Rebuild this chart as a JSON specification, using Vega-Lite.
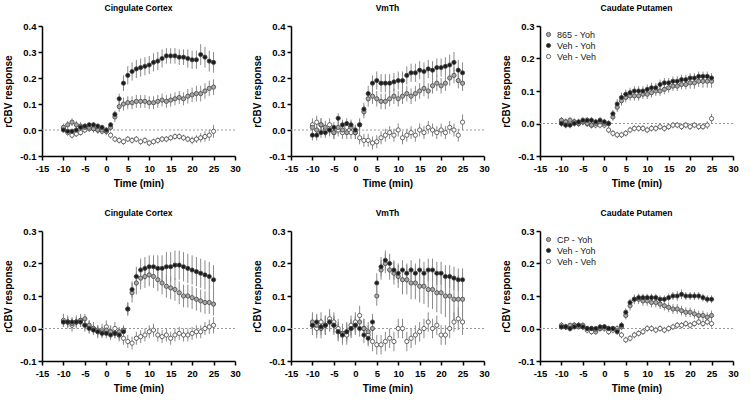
{
"$schema":"https://vega.github.io/schema/vega-lite/v6.json",
"background":"white",
"padding":{"left":3,"top":3,"right":5,"bottom":5},
"config":{"view":{"stroke":null},"font":"Liberation Sans",
"axis":{"grid":false,"domainColor":"black","domainWidth":1.5,"tickColor":"black","tickWidth":1.5,"tickSize":4,"labelFont":"Liberation Sans","labelFontWeight":"bold","labelFontSize":9.5,"labelColor":"black","labelPadding":2,"labelFlush":false,"labelOverlap":false,"labelExpr":"replace(datum.label, '\u2212', '-')","titleFont":"Liberation Sans","titleFontSize":10,"titleFontWeight":"bold","titleColor":"black","titlePadding":6},
"axisX":{"labelPadding":3},
"title":{"font":"Liberation Sans","fontSize":8.5,"fontWeight":"bold","color":"black","anchor":"middle","offset":9},
"legend":{"labelFont":"Liberation Sans","labelFontSize":9,"labelColor":"#222"}},
"datasets":{
"cc1":[
{"g":"Veh - Veh","t":-10,"v":0.005,"e":0.012},{"g":"Veh - Veh","t":-9,"v":-0.01,"e":0.012},{"g":"Veh - Veh","t":-8,"v":-0.02,"e":0.012},{"g":"Veh - Veh","t":-7,"v":-0.015,"e":0.012},{"g":"Veh - Veh","t":-6,"v":-0.01,"e":0.012},{"g":"Veh - Veh","t":-5,"v":0,"e":0.012},{"g":"Veh - Veh","t":-4,"v":0.005,"e":0.012},{"g":"Veh - Veh","t":-3,"v":0.005,"e":0.012},{"g":"Veh - Veh","t":-2,"v":0,"e":0.012},{"g":"Veh - Veh","t":-1,"v":-0.005,"e":0.012},{"g":"Veh - Veh","t":0,"v":-0.005,"e":0.012},{"g":"Veh - Veh","t":1,"v":-0.02,"e":0.012},{"g":"Veh - Veh","t":2,"v":-0.035,"e":0.012},{"g":"Veh - Veh","t":3,"v":-0.04,"e":0.012},{"g":"Veh - Veh","t":4,"v":-0.045,"e":0.012},{"g":"Veh - Veh","t":5,"v":-0.035,"e":0.012},{"g":"Veh - Veh","t":6,"v":-0.04,"e":0.012},{"g":"Veh - Veh","t":7,"v":-0.035,"e":0.012},{"g":"Veh - Veh","t":8,"v":-0.045,"e":0.012},{"g":"Veh - Veh","t":9,"v":-0.04,"e":0.012},{"g":"Veh - Veh","t":10,"v":-0.05,"e":0.012},{"g":"Veh - Veh","t":11,"v":-0.045,"e":0.012},{"g":"Veh - Veh","t":12,"v":-0.04,"e":0.012},{"g":"Veh - Veh","t":13,"v":-0.035,"e":0.012},{"g":"Veh - Veh","t":14,"v":-0.035,"e":0.012},{"g":"Veh - Veh","t":15,"v":-0.03,"e":0.012},{"g":"Veh - Veh","t":16,"v":-0.025,"e":0.012},{"g":"Veh - Veh","t":17,"v":-0.025,"e":0.012},{"g":"Veh - Veh","t":18,"v":-0.03,"e":0.012},{"g":"Veh - Veh","t":19,"v":-0.035,"e":0.012},{"g":"Veh - Veh","t":20,"v":-0.04,"e":0.015},{"g":"Veh - Veh","t":21,"v":-0.035,"e":0.015},{"g":"Veh - Veh","t":22,"v":-0.03,"e":0.018},{"g":"Veh - Veh","t":23,"v":-0.025,"e":0.02},{"g":"Veh - Veh","t":24,"v":-0.02,"e":0.022},{"g":"Veh - Veh","t":25,"v":-0.005,"e":0.025},
{"g":"865 - Yoh","t":-10,"v":0.01,"e":0.015},{"g":"865 - Yoh","t":-9,"v":0.02,"e":0.015},{"g":"865 - Yoh","t":-8,"v":0.03,"e":0.015},{"g":"865 - Yoh","t":-7,"v":0.02,"e":0.015},{"g":"865 - Yoh","t":-6,"v":0.015,"e":0.015},{"g":"865 - Yoh","t":-5,"v":0.01,"e":0.015},{"g":"865 - Yoh","t":-4,"v":0.01,"e":0.015},{"g":"865 - Yoh","t":-3,"v":0.005,"e":0.015},{"g":"865 - Yoh","t":-2,"v":0,"e":0.015},{"g":"865 - Yoh","t":-1,"v":0,"e":0.015},{"g":"865 - Yoh","t":0,"v":-0.005,"e":0.015},{"g":"865 - Yoh","t":1,"v":0.01,"e":0.015},{"g":"865 - Yoh","t":2,"v":0.05,"e":0.02},{"g":"865 - Yoh","t":3,"v":0.09,"e":0.02},{"g":"865 - Yoh","t":4,"v":0.1,"e":0.025},{"g":"865 - Yoh","t":5,"v":0.105,"e":0.025},{"g":"865 - Yoh","t":6,"v":0.105,"e":0.025},{"g":"865 - Yoh","t":7,"v":0.11,"e":0.025},{"g":"865 - Yoh","t":8,"v":0.11,"e":0.025},{"g":"865 - Yoh","t":9,"v":0.11,"e":0.025},{"g":"865 - Yoh","t":10,"v":0.105,"e":0.025},{"g":"865 - Yoh","t":11,"v":0.105,"e":0.025},{"g":"865 - Yoh","t":12,"v":0.11,"e":0.025},{"g":"865 - Yoh","t":13,"v":0.115,"e":0.025},{"g":"865 - Yoh","t":14,"v":0.11,"e":0.025},{"g":"865 - Yoh","t":15,"v":0.115,"e":0.025},{"g":"865 - Yoh","t":16,"v":0.12,"e":0.025},{"g":"865 - Yoh","t":17,"v":0.125,"e":0.025},{"g":"865 - Yoh","t":18,"v":0.12,"e":0.025},{"g":"865 - Yoh","t":19,"v":0.13,"e":0.028},{"g":"865 - Yoh","t":20,"v":0.135,"e":0.028},{"g":"865 - Yoh","t":21,"v":0.14,"e":0.03},{"g":"865 - Yoh","t":22,"v":0.14,"e":0.03},{"g":"865 - Yoh","t":23,"v":0.15,"e":0.03},{"g":"865 - Yoh","t":24,"v":0.16,"e":0.03},{"g":"865 - Yoh","t":25,"v":0.165,"e":0.03},
{"g":"Veh - Yoh","t":-10,"v":0,"e":0.01},{"g":"Veh - Yoh","t":-9,"v":-0.005,"e":0.01},{"g":"Veh - Yoh","t":-8,"v":-0.005,"e":0.01},{"g":"Veh - Yoh","t":-7,"v":0,"e":0.01},{"g":"Veh - Yoh","t":-6,"v":0.01,"e":0.01},{"g":"Veh - Yoh","t":-5,"v":0.015,"e":0.01},{"g":"Veh - Yoh","t":-4,"v":0.02,"e":0.01},{"g":"Veh - Yoh","t":-3,"v":0.02,"e":0.01},{"g":"Veh - Yoh","t":-2,"v":0.015,"e":0.01},{"g":"Veh - Yoh","t":-1,"v":0.01,"e":0.01},{"g":"Veh - Yoh","t":0,"v":0,"e":0.01},{"g":"Veh - Yoh","t":1,"v":0.02,"e":0.01},{"g":"Veh - Yoh","t":2,"v":0.06,"e":0.015},{"g":"Veh - Yoh","t":3,"v":0.12,"e":0.02},{"g":"Veh - Yoh","t":4,"v":0.18,"e":0.03},{"g":"Veh - Yoh","t":5,"v":0.21,"e":0.035},{"g":"Veh - Yoh","t":6,"v":0.225,"e":0.035},{"g":"Veh - Yoh","t":7,"v":0.235,"e":0.035},{"g":"Veh - Yoh","t":8,"v":0.24,"e":0.035},{"g":"Veh - Yoh","t":9,"v":0.245,"e":0.035},{"g":"Veh - Yoh","t":10,"v":0.25,"e":0.035},{"g":"Veh - Yoh","t":11,"v":0.26,"e":0.035},{"g":"Veh - Yoh","t":12,"v":0.265,"e":0.035},{"g":"Veh - Yoh","t":13,"v":0.275,"e":0.035},{"g":"Veh - Yoh","t":14,"v":0.285,"e":0.03},{"g":"Veh - Yoh","t":15,"v":0.285,"e":0.03},{"g":"Veh - Yoh","t":16,"v":0.285,"e":0.03},{"g":"Veh - Yoh","t":17,"v":0.28,"e":0.03},{"g":"Veh - Yoh","t":18,"v":0.28,"e":0.03},{"g":"Veh - Yoh","t":19,"v":0.275,"e":0.035},{"g":"Veh - Yoh","t":20,"v":0.27,"e":0.035},{"g":"Veh - Yoh","t":21,"v":0.27,"e":0.035},{"g":"Veh - Yoh","t":22,"v":0.29,"e":0.04},{"g":"Veh - Yoh","t":23,"v":0.28,"e":0.04},{"g":"Veh - Yoh","t":24,"v":0.265,"e":0.04},{"g":"Veh - Yoh","t":25,"v":0.26,"e":0.04}
],
"vm1":[
{"g":"Veh - Veh","t":-10,"v":0.02,"e":0.025},{"g":"Veh - Veh","t":-9,"v":0.03,"e":0.025},{"g":"Veh - Veh","t":-8,"v":0.02,"e":0.025},{"g":"Veh - Veh","t":-7,"v":0,"e":0.025},{"g":"Veh - Veh","t":-6,"v":0.02,"e":0.025},{"g":"Veh - Veh","t":-5,"v":-0.01,"e":0.025},{"g":"Veh - Veh","t":-4,"v":0,"e":0.025},{"g":"Veh - Veh","t":-3,"v":-0.01,"e":0.025},{"g":"Veh - Veh","t":-2,"v":0.01,"e":0.025},{"g":"Veh - Veh","t":-1,"v":-0.01,"e":0.025},{"g":"Veh - Veh","t":0,"v":-0.01,"e":0.025},{"g":"Veh - Veh","t":1,"v":-0.03,"e":0.025},{"g":"Veh - Veh","t":2,"v":-0.04,"e":0.025},{"g":"Veh - Veh","t":3,"v":-0.04,"e":0.025},{"g":"Veh - Veh","t":4,"v":-0.05,"e":0.025},{"g":"Veh - Veh","t":5,"v":-0.045,"e":0.025},{"g":"Veh - Veh","t":6,"v":-0.03,"e":0.025},{"g":"Veh - Veh","t":7,"v":-0.02,"e":0.025},{"g":"Veh - Veh","t":8,"v":-0.01,"e":0.025},{"g":"Veh - Veh","t":9,"v":-0.02,"e":0.025},{"g":"Veh - Veh","t":10,"v":0,"e":0.025},{"g":"Veh - Veh","t":11,"v":-0.03,"e":0.025},{"g":"Veh - Veh","t":12,"v":-0.02,"e":0.025},{"g":"Veh - Veh","t":13,"v":-0.01,"e":0.025},{"g":"Veh - Veh","t":14,"v":-0.02,"e":0.025},{"g":"Veh - Veh","t":15,"v":0,"e":0.025},{"g":"Veh - Veh","t":16,"v":-0.01,"e":0.025},{"g":"Veh - Veh","t":17,"v":0.01,"e":0.025},{"g":"Veh - Veh","t":18,"v":0,"e":0.025},{"g":"Veh - Veh","t":19,"v":-0.01,"e":0.025},{"g":"Veh - Veh","t":20,"v":0,"e":0.025},{"g":"Veh - Veh","t":21,"v":-0.01,"e":0.025},{"g":"Veh - Veh","t":22,"v":0.01,"e":0.025},{"g":"Veh - Veh","t":23,"v":0,"e":0.025},{"g":"Veh - Veh","t":24,"v":-0.02,"e":0.025},{"g":"Veh - Veh","t":25,"v":0.03,"e":0.03},
{"g":"865 - Yoh","t":-10,"v":0.01,"e":0.025},{"g":"865 - Yoh","t":-9,"v":0,"e":0.025},{"g":"865 - Yoh","t":-8,"v":0.02,"e":0.025},{"g":"865 - Yoh","t":-7,"v":0.01,"e":0.025},{"g":"865 - Yoh","t":-6,"v":0,"e":0.025},{"g":"865 - Yoh","t":-5,"v":-0.01,"e":0.025},{"g":"865 - Yoh","t":-4,"v":0.01,"e":0.025},{"g":"865 - Yoh","t":-3,"v":0,"e":0.025},{"g":"865 - Yoh","t":-2,"v":-0.01,"e":0.025},{"g":"865 - Yoh","t":-1,"v":0.01,"e":0.025},{"g":"865 - Yoh","t":0,"v":-0.01,"e":0.025},{"g":"865 - Yoh","t":1,"v":0.02,"e":0.025},{"g":"865 - Yoh","t":2,"v":0.07,"e":0.025},{"g":"865 - Yoh","t":3,"v":0.12,"e":0.03},{"g":"865 - Yoh","t":4,"v":0.13,"e":0.03},{"g":"865 - Yoh","t":5,"v":0.12,"e":0.03},{"g":"865 - Yoh","t":6,"v":0.11,"e":0.03},{"g":"865 - Yoh","t":7,"v":0.11,"e":0.03},{"g":"865 - Yoh","t":8,"v":0.12,"e":0.03},{"g":"865 - Yoh","t":9,"v":0.13,"e":0.03},{"g":"865 - Yoh","t":10,"v":0.12,"e":0.03},{"g":"865 - Yoh","t":11,"v":0.13,"e":0.03},{"g":"865 - Yoh","t":12,"v":0.14,"e":0.03},{"g":"865 - Yoh","t":13,"v":0.13,"e":0.03},{"g":"865 - Yoh","t":14,"v":0.14,"e":0.03},{"g":"865 - Yoh","t":15,"v":0.15,"e":0.03},{"g":"865 - Yoh","t":16,"v":0.16,"e":0.03},{"g":"865 - Yoh","t":17,"v":0.15,"e":0.03},{"g":"865 - Yoh","t":18,"v":0.17,"e":0.03},{"g":"865 - Yoh","t":19,"v":0.18,"e":0.03},{"g":"865 - Yoh","t":20,"v":0.17,"e":0.03},{"g":"865 - Yoh","t":21,"v":0.18,"e":0.03},{"g":"865 - Yoh","t":22,"v":0.2,"e":0.03},{"g":"865 - Yoh","t":23,"v":0.21,"e":0.03},{"g":"865 - Yoh","t":24,"v":0.19,"e":0.03},{"g":"865 - Yoh","t":25,"v":0.18,"e":0.03},
{"g":"Veh - Yoh","t":-10,"v":-0.02,"e":0.02},{"g":"Veh - Yoh","t":-9,"v":-0.02,"e":0.02},{"g":"Veh - Yoh","t":-8,"v":-0.01,"e":0.02},{"g":"Veh - Yoh","t":-7,"v":-0.01,"e":0.02},{"g":"Veh - Yoh","t":-6,"v":0,"e":0.02},{"g":"Veh - Yoh","t":-5,"v":0.01,"e":0.02},{"g":"Veh - Yoh","t":-4,"v":0.045,"e":0.02},{"g":"Veh - Yoh","t":-3,"v":0.02,"e":0.02},{"g":"Veh - Yoh","t":-2,"v":0.025,"e":0.02},{"g":"Veh - Yoh","t":-1,"v":0.02,"e":0.02},{"g":"Veh - Yoh","t":0,"v":0,"e":0.02},{"g":"Veh - Yoh","t":1,"v":0.02,"e":0.02},{"g":"Veh - Yoh","t":2,"v":0.08,"e":0.025},{"g":"Veh - Yoh","t":3,"v":0.14,"e":0.03},{"g":"Veh - Yoh","t":4,"v":0.18,"e":0.03},{"g":"Veh - Yoh","t":5,"v":0.19,"e":0.035},{"g":"Veh - Yoh","t":6,"v":0.18,"e":0.035},{"g":"Veh - Yoh","t":7,"v":0.18,"e":0.035},{"g":"Veh - Yoh","t":8,"v":0.18,"e":0.035},{"g":"Veh - Yoh","t":9,"v":0.185,"e":0.035},{"g":"Veh - Yoh","t":10,"v":0.19,"e":0.035},{"g":"Veh - Yoh","t":11,"v":0.19,"e":0.035},{"g":"Veh - Yoh","t":12,"v":0.21,"e":0.035},{"g":"Veh - Yoh","t":13,"v":0.22,"e":0.035},{"g":"Veh - Yoh","t":14,"v":0.22,"e":0.035},{"g":"Veh - Yoh","t":15,"v":0.23,"e":0.035},{"g":"Veh - Yoh","t":16,"v":0.225,"e":0.035},{"g":"Veh - Yoh","t":17,"v":0.235,"e":0.035},{"g":"Veh - Yoh","t":18,"v":0.23,"e":0.035},{"g":"Veh - Yoh","t":19,"v":0.24,"e":0.035},{"g":"Veh - Yoh","t":20,"v":0.24,"e":0.035},{"g":"Veh - Yoh","t":21,"v":0.245,"e":0.035},{"g":"Veh - Yoh","t":22,"v":0.25,"e":0.04},{"g":"Veh - Yoh","t":23,"v":0.26,"e":0.04},{"g":"Veh - Yoh","t":24,"v":0.23,"e":0.04},{"g":"Veh - Yoh","t":25,"v":0.22,"e":0.04}
],
"cp1":[
{"g":"Veh - Veh","t":-10,"v":0.005,"e":0.01},{"g":"Veh - Veh","t":-9,"v":0.005,"e":0.01},{"g":"Veh - Veh","t":-8,"v":0,"e":0.01},{"g":"Veh - Veh","t":-7,"v":0.005,"e":0.01},{"g":"Veh - Veh","t":-6,"v":0,"e":0.01},{"g":"Veh - Veh","t":-5,"v":0.005,"e":0.01},{"g":"Veh - Veh","t":-4,"v":0,"e":0.01},{"g":"Veh - Veh","t":-3,"v":-0.005,"e":0.01},{"g":"Veh - Veh","t":-2,"v":-0.005,"e":0.01},{"g":"Veh - Veh","t":-1,"v":-0.005,"e":0.01},{"g":"Veh - Veh","t":0,"v":-0.005,"e":0.01},{"g":"Veh - Veh","t":1,"v":-0.02,"e":0.01},{"g":"Veh - Veh","t":2,"v":-0.03,"e":0.01},{"g":"Veh - Veh","t":3,"v":-0.035,"e":0.01},{"g":"Veh - Veh","t":4,"v":-0.035,"e":0.01},{"g":"Veh - Veh","t":5,"v":-0.03,"e":0.01},{"g":"Veh - Veh","t":6,"v":-0.02,"e":0.01},{"g":"Veh - Veh","t":7,"v":-0.015,"e":0.01},{"g":"Veh - Veh","t":8,"v":-0.015,"e":0.01},{"g":"Veh - Veh","t":9,"v":-0.015,"e":0.01},{"g":"Veh - Veh","t":10,"v":-0.02,"e":0.01},{"g":"Veh - Veh","t":11,"v":-0.015,"e":0.01},{"g":"Veh - Veh","t":12,"v":-0.015,"e":0.01},{"g":"Veh - Veh","t":13,"v":-0.01,"e":0.01},{"g":"Veh - Veh","t":14,"v":-0.015,"e":0.01},{"g":"Veh - Veh","t":15,"v":-0.01,"e":0.01},{"g":"Veh - Veh","t":16,"v":-0.005,"e":0.01},{"g":"Veh - Veh","t":17,"v":-0.005,"e":0.01},{"g":"Veh - Veh","t":18,"v":-0.01,"e":0.01},{"g":"Veh - Veh","t":19,"v":-0.005,"e":0.01},{"g":"Veh - Veh","t":20,"v":-0.01,"e":0.01},{"g":"Veh - Veh","t":21,"v":-0.005,"e":0.01},{"g":"Veh - Veh","t":22,"v":-0.01,"e":0.01},{"g":"Veh - Veh","t":23,"v":-0.01,"e":0.01},{"g":"Veh - Veh","t":24,"v":-0.005,"e":0.012},{"g":"Veh - Veh","t":25,"v":0.015,"e":0.015},
{"g":"865 - Yoh","t":-10,"v":0.01,"e":0.01},{"g":"865 - Yoh","t":-9,"v":0.005,"e":0.01},{"g":"865 - Yoh","t":-8,"v":0.01,"e":0.01},{"g":"865 - Yoh","t":-7,"v":0.005,"e":0.01},{"g":"865 - Yoh","t":-6,"v":0,"e":0.01},{"g":"865 - Yoh","t":-5,"v":0.005,"e":0.01},{"g":"865 - Yoh","t":-4,"v":0,"e":0.01},{"g":"865 - Yoh","t":-3,"v":-0.005,"e":0.01},{"g":"865 - Yoh","t":-2,"v":0,"e":0.01},{"g":"865 - Yoh","t":-1,"v":0.005,"e":0.01},{"g":"865 - Yoh","t":0,"v":0,"e":0.01},{"g":"865 - Yoh","t":1,"v":0,"e":0.01},{"g":"865 - Yoh","t":2,"v":0.02,"e":0.012},{"g":"865 - Yoh","t":3,"v":0.05,"e":0.015},{"g":"865 - Yoh","t":4,"v":0.07,"e":0.015},{"g":"865 - Yoh","t":5,"v":0.08,"e":0.015},{"g":"865 - Yoh","t":6,"v":0.085,"e":0.015},{"g":"865 - Yoh","t":7,"v":0.085,"e":0.015},{"g":"865 - Yoh","t":8,"v":0.085,"e":0.015},{"g":"865 - Yoh","t":9,"v":0.09,"e":0.015},{"g":"865 - Yoh","t":10,"v":0.09,"e":0.015},{"g":"865 - Yoh","t":11,"v":0.095,"e":0.015},{"g":"865 - Yoh","t":12,"v":0.1,"e":0.015},{"g":"865 - Yoh","t":13,"v":0.1,"e":0.015},{"g":"865 - Yoh","t":14,"v":0.105,"e":0.015},{"g":"865 - Yoh","t":15,"v":0.11,"e":0.015},{"g":"865 - Yoh","t":16,"v":0.115,"e":0.015},{"g":"865 - Yoh","t":17,"v":0.115,"e":0.015},{"g":"865 - Yoh","t":18,"v":0.12,"e":0.015},{"g":"865 - Yoh","t":19,"v":0.12,"e":0.015},{"g":"865 - Yoh","t":20,"v":0.125,"e":0.018},{"g":"865 - Yoh","t":21,"v":0.125,"e":0.018},{"g":"865 - Yoh","t":22,"v":0.13,"e":0.018},{"g":"865 - Yoh","t":23,"v":0.13,"e":0.02},{"g":"865 - Yoh","t":24,"v":0.13,"e":0.02},{"g":"865 - Yoh","t":25,"v":0.13,"e":0.02},
{"g":"Veh - Yoh","t":-10,"v":0,"e":0.01},{"g":"Veh - Yoh","t":-9,"v":-0.005,"e":0.01},{"g":"Veh - Yoh","t":-8,"v":-0.005,"e":0.01},{"g":"Veh - Yoh","t":-7,"v":0,"e":0.01},{"g":"Veh - Yoh","t":-6,"v":0.005,"e":0.01},{"g":"Veh - Yoh","t":-5,"v":0.01,"e":0.01},{"g":"Veh - Yoh","t":-4,"v":0.01,"e":0.01},{"g":"Veh - Yoh","t":-3,"v":0.01,"e":0.01},{"g":"Veh - Yoh","t":-2,"v":0.005,"e":0.01},{"g":"Veh - Yoh","t":-1,"v":0.01,"e":0.01},{"g":"Veh - Yoh","t":0,"v":0.005,"e":0.01},{"g":"Veh - Yoh","t":1,"v":0,"e":0.01},{"g":"Veh - Yoh","t":2,"v":0.03,"e":0.012},{"g":"Veh - Yoh","t":3,"v":0.06,"e":0.015},{"g":"Veh - Yoh","t":4,"v":0.08,"e":0.015},{"g":"Veh - Yoh","t":5,"v":0.09,"e":0.015},{"g":"Veh - Yoh","t":6,"v":0.095,"e":0.015},{"g":"Veh - Yoh","t":7,"v":0.1,"e":0.015},{"g":"Veh - Yoh","t":8,"v":0.1,"e":0.015},{"g":"Veh - Yoh","t":9,"v":0.1,"e":0.015},{"g":"Veh - Yoh","t":10,"v":0.105,"e":0.015},{"g":"Veh - Yoh","t":11,"v":0.11,"e":0.015},{"g":"Veh - Yoh","t":12,"v":0.11,"e":0.015},{"g":"Veh - Yoh","t":13,"v":0.12,"e":0.015},{"g":"Veh - Yoh","t":14,"v":0.125,"e":0.015},{"g":"Veh - Yoh","t":15,"v":0.125,"e":0.015},{"g":"Veh - Yoh","t":16,"v":0.13,"e":0.015},{"g":"Veh - Yoh","t":17,"v":0.13,"e":0.015},{"g":"Veh - Yoh","t":18,"v":0.135,"e":0.015},{"g":"Veh - Yoh","t":19,"v":0.135,"e":0.015},{"g":"Veh - Yoh","t":20,"v":0.14,"e":0.015},{"g":"Veh - Yoh","t":21,"v":0.14,"e":0.015},{"g":"Veh - Yoh","t":22,"v":0.145,"e":0.015},{"g":"Veh - Yoh","t":23,"v":0.145,"e":0.015},{"g":"Veh - Yoh","t":24,"v":0.145,"e":0.015},{"g":"Veh - Yoh","t":25,"v":0.14,"e":0.015}
],
"cc2":[
{"g":"Veh - Veh","t":-10,"v":0.025,"e":0.02},{"g":"Veh - Veh","t":-9,"v":0.02,"e":0.02},{"g":"Veh - Veh","t":-8,"v":0.01,"e":0.02},{"g":"Veh - Veh","t":-7,"v":0.02,"e":0.02},{"g":"Veh - Veh","t":-6,"v":0.025,"e":0.02},{"g":"Veh - Veh","t":-5,"v":0.01,"e":0.02},{"g":"Veh - Veh","t":-4,"v":0.005,"e":0.02},{"g":"Veh - Veh","t":-3,"v":0,"e":0.02},{"g":"Veh - Veh","t":-2,"v":-0.01,"e":0.02},{"g":"Veh - Veh","t":-1,"v":-0.005,"e":0.02},{"g":"Veh - Veh","t":0,"v":0.005,"e":0.02},{"g":"Veh - Veh","t":1,"v":-0.01,"e":0.02},{"g":"Veh - Veh","t":2,"v":0,"e":0.02},{"g":"Veh - Veh","t":3,"v":-0.02,"e":0.02},{"g":"Veh - Veh","t":4,"v":-0.03,"e":0.02},{"g":"Veh - Veh","t":5,"v":-0.04,"e":0.02},{"g":"Veh - Veh","t":6,"v":-0.045,"e":0.02},{"g":"Veh - Veh","t":7,"v":-0.03,"e":0.02},{"g":"Veh - Veh","t":8,"v":-0.025,"e":0.02},{"g":"Veh - Veh","t":9,"v":-0.02,"e":0.02},{"g":"Veh - Veh","t":10,"v":-0.01,"e":0.02},{"g":"Veh - Veh","t":11,"v":-0.005,"e":0.02},{"g":"Veh - Veh","t":12,"v":-0.02,"e":0.02},{"g":"Veh - Veh","t":13,"v":-0.025,"e":0.02},{"g":"Veh - Veh","t":14,"v":-0.02,"e":0.02},{"g":"Veh - Veh","t":15,"v":-0.03,"e":0.02},{"g":"Veh - Veh","t":16,"v":-0.02,"e":0.02},{"g":"Veh - Veh","t":17,"v":-0.015,"e":0.02},{"g":"Veh - Veh","t":18,"v":-0.02,"e":0.02},{"g":"Veh - Veh","t":19,"v":-0.02,"e":0.02},{"g":"Veh - Veh","t":20,"v":-0.015,"e":0.02},{"g":"Veh - Veh","t":21,"v":-0.01,"e":0.02},{"g":"Veh - Veh","t":22,"v":-0.01,"e":0.02},{"g":"Veh - Veh","t":23,"v":0,"e":0.02},{"g":"Veh - Veh","t":24,"v":0.005,"e":0.022},{"g":"Veh - Veh","t":25,"v":0.01,"e":0.025},
{"g":"CP - Yoh","t":-10,"v":0.02,"e":0.015},{"g":"CP - Yoh","t":-9,"v":0.02,"e":0.015},{"g":"CP - Yoh","t":-8,"v":0.015,"e":0.015},{"g":"CP - Yoh","t":-7,"v":0.02,"e":0.015},{"g":"CP - Yoh","t":-6,"v":0.025,"e":0.015},{"g":"CP - Yoh","t":-5,"v":0.03,"e":0.015},{"g":"CP - Yoh","t":-4,"v":0.01,"e":0.015},{"g":"CP - Yoh","t":-3,"v":0,"e":0.015},{"g":"CP - Yoh","t":-2,"v":-0.005,"e":0.015},{"g":"CP - Yoh","t":-1,"v":-0.01,"e":0.015},{"g":"CP - Yoh","t":0,"v":-0.005,"e":0.015},{"g":"CP - Yoh","t":1,"v":-0.01,"e":0.015},{"g":"CP - Yoh","t":2,"v":-0.015,"e":0.015},{"g":"CP - Yoh","t":3,"v":-0.01,"e":0.015},{"g":"CP - Yoh","t":4,"v":-0.005,"e":0.015},{"g":"CP - Yoh","t":5,"v":0.06,"e":0.02},{"g":"CP - Yoh","t":6,"v":0.11,"e":0.03},{"g":"CP - Yoh","t":7,"v":0.14,"e":0.035},{"g":"CP - Yoh","t":8,"v":0.155,"e":0.035},{"g":"CP - Yoh","t":9,"v":0.16,"e":0.035},{"g":"CP - Yoh","t":10,"v":0.165,"e":0.035},{"g":"CP - Yoh","t":11,"v":0.16,"e":0.035},{"g":"CP - Yoh","t":12,"v":0.15,"e":0.035},{"g":"CP - Yoh","t":13,"v":0.14,"e":0.035},{"g":"CP - Yoh","t":14,"v":0.13,"e":0.035},{"g":"CP - Yoh","t":15,"v":0.125,"e":0.035},{"g":"CP - Yoh","t":16,"v":0.12,"e":0.035},{"g":"CP - Yoh","t":17,"v":0.11,"e":0.035},{"g":"CP - Yoh","t":18,"v":0.1,"e":0.035},{"g":"CP - Yoh","t":19,"v":0.1,"e":0.035},{"g":"CP - Yoh","t":20,"v":0.095,"e":0.035},{"g":"CP - Yoh","t":21,"v":0.09,"e":0.035},{"g":"CP - Yoh","t":22,"v":0.085,"e":0.035},{"g":"CP - Yoh","t":23,"v":0.08,"e":0.035},{"g":"CP - Yoh","t":24,"v":0.08,"e":0.035},{"g":"CP - Yoh","t":25,"v":0.075,"e":0.035},
{"g":"Veh - Yoh","t":-10,"v":0.02,"e":0.015},{"g":"Veh - Yoh","t":-9,"v":0.02,"e":0.015},{"g":"Veh - Yoh","t":-8,"v":0.02,"e":0.015},{"g":"Veh - Yoh","t":-7,"v":0.02,"e":0.015},{"g":"Veh - Yoh","t":-6,"v":0.02,"e":0.015},{"g":"Veh - Yoh","t":-5,"v":0.01,"e":0.015},{"g":"Veh - Yoh","t":-4,"v":0,"e":0.015},{"g":"Veh - Yoh","t":-3,"v":-0.005,"e":0.015},{"g":"Veh - Yoh","t":-2,"v":-0.01,"e":0.015},{"g":"Veh - Yoh","t":-1,"v":-0.015,"e":0.015},{"g":"Veh - Yoh","t":0,"v":-0.015,"e":0.015},{"g":"Veh - Yoh","t":1,"v":-0.02,"e":0.015},{"g":"Veh - Yoh","t":2,"v":-0.015,"e":0.015},{"g":"Veh - Yoh","t":3,"v":-0.02,"e":0.015},{"g":"Veh - Yoh","t":4,"v":-0.01,"e":0.015},{"g":"Veh - Yoh","t":5,"v":0.06,"e":0.02},{"g":"Veh - Yoh","t":6,"v":0.12,"e":0.025},{"g":"Veh - Yoh","t":7,"v":0.16,"e":0.03},{"g":"Veh - Yoh","t":8,"v":0.18,"e":0.035},{"g":"Veh - Yoh","t":9,"v":0.185,"e":0.035},{"g":"Veh - Yoh","t":10,"v":0.19,"e":0.035},{"g":"Veh - Yoh","t":11,"v":0.19,"e":0.035},{"g":"Veh - Yoh","t":12,"v":0.185,"e":0.04},{"g":"Veh - Yoh","t":13,"v":0.185,"e":0.04},{"g":"Veh - Yoh","t":14,"v":0.19,"e":0.045},{"g":"Veh - Yoh","t":15,"v":0.19,"e":0.045},{"g":"Veh - Yoh","t":16,"v":0.195,"e":0.045},{"g":"Veh - Yoh","t":17,"v":0.195,"e":0.045},{"g":"Veh - Yoh","t":18,"v":0.19,"e":0.045},{"g":"Veh - Yoh","t":19,"v":0.185,"e":0.045},{"g":"Veh - Yoh","t":20,"v":0.18,"e":0.045},{"g":"Veh - Yoh","t":21,"v":0.175,"e":0.045},{"g":"Veh - Yoh","t":22,"v":0.17,"e":0.045},{"g":"Veh - Yoh","t":23,"v":0.165,"e":0.045},{"g":"Veh - Yoh","t":24,"v":0.16,"e":0.045},{"g":"Veh - Yoh","t":25,"v":0.15,"e":0.045}
],
"vm2":[
{"g":"Veh - Veh","t":-10,"v":0.01,"e":0.03},{"g":"Veh - Veh","t":-9,"v":0,"e":0.03},{"g":"Veh - Veh","t":-8,"v":0.02,"e":0.03},{"g":"Veh - Veh","t":-7,"v":0.01,"e":0.03},{"g":"Veh - Veh","t":-6,"v":0.03,"e":0.03},{"g":"Veh - Veh","t":-5,"v":0.02,"e":0.03},{"g":"Veh - Veh","t":-4,"v":0,"e":0.03},{"g":"Veh - Veh","t":-3,"v":-0.02,"e":0.03},{"g":"Veh - Veh","t":-2,"v":-0.02,"e":0.03},{"g":"Veh - Veh","t":-1,"v":0.01,"e":0.03},{"g":"Veh - Veh","t":0,"v":0.02,"e":0.03},{"g":"Veh - Veh","t":1,"v":0.04,"e":0.03},{"g":"Veh - Veh","t":2,"v":0,"e":0.03},{"g":"Veh - Veh","t":3,"v":-0.02,"e":0.03},{"g":"Veh - Veh","t":4,"v":-0.04,"e":0.03},{"g":"Veh - Veh","t":5,"v":-0.05,"e":0.03},{"g":"Veh - Veh","t":6,"v":-0.05,"e":0.03},{"g":"Veh - Veh","t":7,"v":-0.04,"e":0.03},{"g":"Veh - Veh","t":8,"v":-0.03,"e":0.03},{"g":"Veh - Veh","t":9,"v":-0.04,"e":0.03},{"g":"Veh - Veh","t":10,"v":0,"e":0.03},{"g":"Veh - Veh","t":11,"v":0,"e":0.03},{"g":"Veh - Veh","t":12,"v":-0.04,"e":0.03},{"g":"Veh - Veh","t":13,"v":-0.03,"e":0.03},{"g":"Veh - Veh","t":14,"v":-0.02,"e":0.03},{"g":"Veh - Veh","t":15,"v":-0.01,"e":0.03},{"g":"Veh - Veh","t":16,"v":0,"e":0.03},{"g":"Veh - Veh","t":17,"v":0.02,"e":0.03},{"g":"Veh - Veh","t":18,"v":0,"e":0.03},{"g":"Veh - Veh","t":19,"v":0.01,"e":0.03},{"g":"Veh - Veh","t":20,"v":-0.02,"e":0.03},{"g":"Veh - Veh","t":21,"v":-0.02,"e":0.03},{"g":"Veh - Veh","t":22,"v":0,"e":0.03},{"g":"Veh - Veh","t":23,"v":0.02,"e":0.03},{"g":"Veh - Veh","t":24,"v":0.03,"e":0.035},{"g":"Veh - Veh","t":25,"v":0.02,"e":0.04},
{"g":"CP - Yoh","t":-10,"v":0.02,"e":0.03},{"g":"CP - Yoh","t":-9,"v":0.01,"e":0.03},{"g":"CP - Yoh","t":-8,"v":0,"e":0.03},{"g":"CP - Yoh","t":-7,"v":0.01,"e":0.03},{"g":"CP - Yoh","t":-6,"v":0.02,"e":0.03},{"g":"CP - Yoh","t":-5,"v":0.01,"e":0.03},{"g":"CP - Yoh","t":-4,"v":-0.01,"e":0.03},{"g":"CP - Yoh","t":-3,"v":-0.015,"e":0.03},{"g":"CP - Yoh","t":-2,"v":-0.01,"e":0.03},{"g":"CP - Yoh","t":-1,"v":0,"e":0.03},{"g":"CP - Yoh","t":0,"v":0.01,"e":0.03},{"g":"CP - Yoh","t":1,"v":0.02,"e":0.03},{"g":"CP - Yoh","t":2,"v":0,"e":0.03},{"g":"CP - Yoh","t":3,"v":-0.01,"e":0.03},{"g":"CP - Yoh","t":4,"v":0,"e":0.03},{"g":"CP - Yoh","t":5,"v":0.1,"e":0.03},{"g":"CP - Yoh","t":6,"v":0.18,"e":0.03},{"g":"CP - Yoh","t":7,"v":0.2,"e":0.03},{"g":"CP - Yoh","t":8,"v":0.18,"e":0.03},{"g":"CP - Yoh","t":9,"v":0.17,"e":0.035},{"g":"CP - Yoh","t":10,"v":0.16,"e":0.035},{"g":"CP - Yoh","t":11,"v":0.15,"e":0.045},{"g":"CP - Yoh","t":12,"v":0.15,"e":0.045},{"g":"CP - Yoh","t":13,"v":0.14,"e":0.05},{"g":"CP - Yoh","t":14,"v":0.14,"e":0.05},{"g":"CP - Yoh","t":15,"v":0.13,"e":0.05},{"g":"CP - Yoh","t":16,"v":0.13,"e":0.055},{"g":"CP - Yoh","t":17,"v":0.12,"e":0.055},{"g":"CP - Yoh","t":18,"v":0.12,"e":0.06},{"g":"CP - Yoh","t":19,"v":0.11,"e":0.06},{"g":"CP - Yoh","t":20,"v":0.11,"e":0.065},{"g":"CP - Yoh","t":21,"v":0.1,"e":0.065},{"g":"CP - Yoh","t":22,"v":0.1,"e":0.07},{"g":"CP - Yoh","t":23,"v":0.09,"e":0.07},{"g":"CP - Yoh","t":24,"v":0.09,"e":0.075},{"g":"CP - Yoh","t":25,"v":0.09,"e":0.08},
{"g":"Veh - Yoh","t":-10,"v":0.01,"e":0.025},{"g":"Veh - Yoh","t":-9,"v":0.02,"e":0.025},{"g":"Veh - Yoh","t":-8,"v":0.005,"e":0.025},{"g":"Veh - Yoh","t":-7,"v":0.01,"e":0.025},{"g":"Veh - Yoh","t":-6,"v":0.02,"e":0.025},{"g":"Veh - Yoh","t":-5,"v":0.01,"e":0.025},{"g":"Veh - Yoh","t":-4,"v":-0.01,"e":0.025},{"g":"Veh - Yoh","t":-3,"v":-0.02,"e":0.025},{"g":"Veh - Yoh","t":-2,"v":-0.01,"e":0.025},{"g":"Veh - Yoh","t":-1,"v":0,"e":0.025},{"g":"Veh - Yoh","t":0,"v":0.01,"e":0.025},{"g":"Veh - Yoh","t":1,"v":0,"e":0.025},{"g":"Veh - Yoh","t":2,"v":-0.02,"e":0.025},{"g":"Veh - Yoh","t":3,"v":-0.03,"e":0.025},{"g":"Veh - Yoh","t":4,"v":0.02,"e":0.025},{"g":"Veh - Yoh","t":5,"v":0.14,"e":0.03},{"g":"Veh - Yoh","t":6,"v":0.19,"e":0.03},{"g":"Veh - Yoh","t":7,"v":0.21,"e":0.03},{"g":"Veh - Yoh","t":8,"v":0.2,"e":0.03},{"g":"Veh - Yoh","t":9,"v":0.18,"e":0.03},{"g":"Veh - Yoh","t":10,"v":0.17,"e":0.03},{"g":"Veh - Yoh","t":11,"v":0.18,"e":0.03},{"g":"Veh - Yoh","t":12,"v":0.17,"e":0.03},{"g":"Veh - Yoh","t":13,"v":0.18,"e":0.03},{"g":"Veh - Yoh","t":14,"v":0.17,"e":0.03},{"g":"Veh - Yoh","t":15,"v":0.18,"e":0.035},{"g":"Veh - Yoh","t":16,"v":0.17,"e":0.035},{"g":"Veh - Yoh","t":17,"v":0.18,"e":0.035},{"g":"Veh - Yoh","t":18,"v":0.18,"e":0.035},{"g":"Veh - Yoh","t":19,"v":0.17,"e":0.035},{"g":"Veh - Yoh","t":20,"v":0.17,"e":0.035},{"g":"Veh - Yoh","t":21,"v":0.16,"e":0.035},{"g":"Veh - Yoh","t":22,"v":0.16,"e":0.035},{"g":"Veh - Yoh","t":23,"v":0.155,"e":0.035},{"g":"Veh - Yoh","t":24,"v":0.15,"e":0.035},{"g":"Veh - Yoh","t":25,"v":0.15,"e":0.035}
],
"cp2":[
{"g":"Veh - Veh","t":-10,"v":0.01,"e":0.01},{"g":"Veh - Veh","t":-9,"v":0.005,"e":0.01},{"g":"Veh - Veh","t":-8,"v":0,"e":0.01},{"g":"Veh - Veh","t":-7,"v":0.01,"e":0.01},{"g":"Veh - Veh","t":-6,"v":0.01,"e":0.01},{"g":"Veh - Veh","t":-5,"v":0.005,"e":0.01},{"g":"Veh - Veh","t":-4,"v":-0.005,"e":0.01},{"g":"Veh - Veh","t":-3,"v":-0.01,"e":0.01},{"g":"Veh - Veh","t":-2,"v":-0.01,"e":0.01},{"g":"Veh - Veh","t":-1,"v":0,"e":0.01},{"g":"Veh - Veh","t":0,"v":0,"e":0.01},{"g":"Veh - Veh","t":1,"v":-0.01,"e":0.01},{"g":"Veh - Veh","t":2,"v":-0.005,"e":0.01},{"g":"Veh - Veh","t":3,"v":0,"e":0.01},{"g":"Veh - Veh","t":4,"v":-0.02,"e":0.01},{"g":"Veh - Veh","t":5,"v":-0.035,"e":0.01},{"g":"Veh - Veh","t":6,"v":-0.03,"e":0.01},{"g":"Veh - Veh","t":7,"v":-0.02,"e":0.01},{"g":"Veh - Veh","t":8,"v":-0.015,"e":0.01},{"g":"Veh - Veh","t":9,"v":-0.01,"e":0.01},{"g":"Veh - Veh","t":10,"v":0,"e":0.01},{"g":"Veh - Veh","t":11,"v":0,"e":0.01},{"g":"Veh - Veh","t":12,"v":-0.005,"e":0.01},{"g":"Veh - Veh","t":13,"v":0,"e":0.01},{"g":"Veh - Veh","t":14,"v":-0.005,"e":0.01},{"g":"Veh - Veh","t":15,"v":0,"e":0.01},{"g":"Veh - Veh","t":16,"v":0.005,"e":0.01},{"g":"Veh - Veh","t":17,"v":0.01,"e":0.01},{"g":"Veh - Veh","t":18,"v":0.01,"e":0.01},{"g":"Veh - Veh","t":19,"v":0.015,"e":0.01},{"g":"Veh - Veh","t":20,"v":0.01,"e":0.01},{"g":"Veh - Veh","t":21,"v":0.015,"e":0.01},{"g":"Veh - Veh","t":22,"v":0.02,"e":0.01},{"g":"Veh - Veh","t":23,"v":0.015,"e":0.01},{"g":"Veh - Veh","t":24,"v":0.02,"e":0.01},{"g":"Veh - Veh","t":25,"v":0.015,"e":0.012},
{"g":"CP - Yoh","t":-10,"v":0.005,"e":0.008},{"g":"CP - Yoh","t":-9,"v":0.005,"e":0.008},{"g":"CP - Yoh","t":-8,"v":0.01,"e":0.008},{"g":"CP - Yoh","t":-7,"v":0.01,"e":0.008},{"g":"CP - Yoh","t":-6,"v":0.005,"e":0.008},{"g":"CP - Yoh","t":-5,"v":0.01,"e":0.008},{"g":"CP - Yoh","t":-4,"v":0,"e":0.008},{"g":"CP - Yoh","t":-3,"v":0,"e":0.008},{"g":"CP - Yoh","t":-2,"v":-0.005,"e":0.008},{"g":"CP - Yoh","t":-1,"v":0,"e":0.008},{"g":"CP - Yoh","t":0,"v":0.005,"e":0.008},{"g":"CP - Yoh","t":1,"v":0,"e":0.008},{"g":"CP - Yoh","t":2,"v":0,"e":0.008},{"g":"CP - Yoh","t":3,"v":-0.005,"e":0.008},{"g":"CP - Yoh","t":4,"v":0.005,"e":0.01},{"g":"CP - Yoh","t":5,"v":0.04,"e":0.012},{"g":"CP - Yoh","t":6,"v":0.07,"e":0.015},{"g":"CP - Yoh","t":7,"v":0.09,"e":0.015},{"g":"CP - Yoh","t":8,"v":0.09,"e":0.015},{"g":"CP - Yoh","t":9,"v":0.085,"e":0.015},{"g":"CP - Yoh","t":10,"v":0.085,"e":0.015},{"g":"CP - Yoh","t":11,"v":0.08,"e":0.015},{"g":"CP - Yoh","t":12,"v":0.08,"e":0.015},{"g":"CP - Yoh","t":13,"v":0.075,"e":0.015},{"g":"CP - Yoh","t":14,"v":0.07,"e":0.015},{"g":"CP - Yoh","t":15,"v":0.065,"e":0.015},{"g":"CP - Yoh","t":16,"v":0.06,"e":0.015},{"g":"CP - Yoh","t":17,"v":0.06,"e":0.015},{"g":"CP - Yoh","t":18,"v":0.055,"e":0.015},{"g":"CP - Yoh","t":19,"v":0.05,"e":0.015},{"g":"CP - Yoh","t":20,"v":0.05,"e":0.015},{"g":"CP - Yoh","t":21,"v":0.045,"e":0.015},{"g":"CP - Yoh","t":22,"v":0.04,"e":0.015},{"g":"CP - Yoh","t":23,"v":0.04,"e":0.015},{"g":"CP - Yoh","t":24,"v":0.035,"e":0.015},{"g":"CP - Yoh","t":25,"v":0.04,"e":0.015},
{"g":"Veh - Yoh","t":-10,"v":0.005,"e":0.008},{"g":"Veh - Yoh","t":-9,"v":0.005,"e":0.008},{"g":"Veh - Yoh","t":-8,"v":0,"e":0.008},{"g":"Veh - Yoh","t":-7,"v":0.005,"e":0.008},{"g":"Veh - Yoh","t":-6,"v":0.01,"e":0.008},{"g":"Veh - Yoh","t":-5,"v":0.005,"e":0.008},{"g":"Veh - Yoh","t":-4,"v":0,"e":0.008},{"g":"Veh - Yoh","t":-3,"v":0,"e":0.008},{"g":"Veh - Yoh","t":-2,"v":0,"e":0.008},{"g":"Veh - Yoh","t":-1,"v":0.005,"e":0.008},{"g":"Veh - Yoh","t":0,"v":0.005,"e":0.008},{"g":"Veh - Yoh","t":1,"v":0,"e":0.008},{"g":"Veh - Yoh","t":2,"v":0,"e":0.008},{"g":"Veh - Yoh","t":3,"v":-0.01,"e":0.01},{"g":"Veh - Yoh","t":4,"v":0.01,"e":0.01},{"g":"Veh - Yoh","t":5,"v":0.05,"e":0.012},{"g":"Veh - Yoh","t":6,"v":0.08,"e":0.012},{"g":"Veh - Yoh","t":7,"v":0.09,"e":0.012},{"g":"Veh - Yoh","t":8,"v":0.095,"e":0.012},{"g":"Veh - Yoh","t":9,"v":0.095,"e":0.012},{"g":"Veh - Yoh","t":10,"v":0.095,"e":0.012},{"g":"Veh - Yoh","t":11,"v":0.095,"e":0.012},{"g":"Veh - Yoh","t":12,"v":0.095,"e":0.012},{"g":"Veh - Yoh","t":13,"v":0.09,"e":0.012},{"g":"Veh - Yoh","t":14,"v":0.09,"e":0.012},{"g":"Veh - Yoh","t":15,"v":0.095,"e":0.012},{"g":"Veh - Yoh","t":16,"v":0.1,"e":0.012},{"g":"Veh - Yoh","t":17,"v":0.1,"e":0.015},{"g":"Veh - Yoh","t":18,"v":0.105,"e":0.015},{"g":"Veh - Yoh","t":19,"v":0.1,"e":0.012},{"g":"Veh - Yoh","t":20,"v":0.1,"e":0.012},{"g":"Veh - Yoh","t":21,"v":0.1,"e":0.012},{"g":"Veh - Yoh","t":22,"v":0.1,"e":0.012},{"g":"Veh - Yoh","t":23,"v":0.095,"e":0.012},{"g":"Veh - Yoh","t":24,"v":0.09,"e":0.012},{"g":"Veh - Yoh","t":25,"v":0.09,"e":0.012}
]
},
"columns":3,
"spacing":{"column":56,"row":75},
"bounds":"flush",
"resolve":{"scale":{"fill":"independent","x":"independent","y":"independent"},"legend":{"fill":"independent"}},
"concat":[
{"title":"Cingulate Cortex","width":193,"height":130,"data":{"name":"cc1"},
"layer":[
{"data":{"values":[{}]},"mark":{"type":"rule","color":"#9a9a9a","strokeDash":[2,2],"strokeWidth":1},"encoding":{"y":{"datum":0,"type":"quantitative","scale":{"domain":[-0.1,0.4],"nice":false,"zero":false},"axis":{"values":[-0.1,0,0.1,0.2,0.3,0.4],"format":".1f","title":"rCBV response"}}}},
{"mark":{"type":"errorbar","color":"#8a8a8a","thickness":1},"encoding":{"x":{"field":"t","type":"quantitative","scale":{"domain":[-15,30],"nice":false},"axis":{"values":[-15,-10,-5,0,5,10,15,20,25,30],"title":"Time (min)"}},"y":{"field":"v","type":"quantitative","scale":{"domain":[-0.1,0.4],"nice":false,"zero":false},"axis":{"values":[-0.1,0,0.1,0.2,0.3,0.4],"format":".1f","title":"rCBV response"}},"yError":{"field":"e"}}},
{"mark":{"type":"point","filled":true,"size":18,"stroke":"#444444","strokeWidth":0.8,"opacity":1},"encoding":{"x":{"field":"t","type":"quantitative","scale":{"domain":[-15,30],"nice":false},"axis":{"values":[-15,-10,-5,0,5,10,15,20,25,30],"title":"Time (min)"}},"y":{"field":"v","type":"quantitative","scale":{"domain":[-0.1,0.4],"nice":false,"zero":false},"axis":{"values":[-0.1,0,0.1,0.2,0.3,0.4],"format":".1f","title":"rCBV response"}},"fill":{"field":"g","type":"nominal","scale":{"domain":["865 - Yoh","Veh - Yoh","Veh - Veh"],"range":["#a8a8a8","#1c1c1c","#ffffff"]},"legend":null}}}
]},
{"title":"VmTh","width":193,"height":130,"data":{"name":"vm1"},
"layer":[
{"data":{"values":[{}]},"mark":{"type":"rule","color":"#9a9a9a","strokeDash":[2,2],"strokeWidth":1},"encoding":{"y":{"datum":0,"type":"quantitative","scale":{"domain":[-0.1,0.4],"nice":false,"zero":false},"axis":{"values":[-0.1,0,0.1,0.2,0.3,0.4],"format":".1f","title":"rCBV response"}}}},
{"mark":{"type":"errorbar","color":"#8a8a8a","thickness":1},"encoding":{"x":{"field":"t","type":"quantitative","scale":{"domain":[-15,30],"nice":false},"axis":{"values":[-15,-10,-5,0,5,10,15,20,25,30],"title":"Time (min)"}},"y":{"field":"v","type":"quantitative","scale":{"domain":[-0.1,0.4],"nice":false,"zero":false},"axis":{"values":[-0.1,0,0.1,0.2,0.3,0.4],"format":".1f","title":"rCBV response"}},"yError":{"field":"e"}}},
{"mark":{"type":"point","filled":true,"size":18,"stroke":"#444444","strokeWidth":0.8,"opacity":1},"encoding":{"x":{"field":"t","type":"quantitative","scale":{"domain":[-15,30],"nice":false},"axis":{"values":[-15,-10,-5,0,5,10,15,20,25,30],"title":"Time (min)"}},"y":{"field":"v","type":"quantitative","scale":{"domain":[-0.1,0.4],"nice":false,"zero":false},"axis":{"values":[-0.1,0,0.1,0.2,0.3,0.4],"format":".1f","title":"rCBV response"}},"fill":{"field":"g","type":"nominal","scale":{"domain":["865 - Yoh","Veh - Yoh","Veh - Veh"],"range":["#a8a8a8","#1c1c1c","#ffffff"]},"legend":null}}}
]},
{"title":"Caudate Putamen","width":193,"height":130,"data":{"name":"cp1"},
"layer":[
{"data":{"values":[{}]},"mark":{"type":"rule","color":"#9a9a9a","strokeDash":[2,2],"strokeWidth":1},"encoding":{"y":{"datum":0,"type":"quantitative","scale":{"domain":[-0.1,0.3],"nice":false,"zero":false},"axis":{"values":[-0.1,0,0.1,0.2,0.3],"format":".1f","title":"rCBV response"}}}},
{"mark":{"type":"errorbar","color":"#8a8a8a","thickness":1},"encoding":{"x":{"field":"t","type":"quantitative","scale":{"domain":[-15,30],"nice":false},"axis":{"values":[-15,-10,-5,0,5,10,15,20,25,30],"title":"Time (min)"}},"y":{"field":"v","type":"quantitative","scale":{"domain":[-0.1,0.3],"nice":false,"zero":false},"axis":{"values":[-0.1,0,0.1,0.2,0.3],"format":".1f","title":"rCBV response"}},"yError":{"field":"e"}}},
{"mark":{"type":"point","filled":true,"size":18,"stroke":"#444444","strokeWidth":0.8,"opacity":1},"encoding":{"x":{"field":"t","type":"quantitative","scale":{"domain":[-15,30],"nice":false},"axis":{"values":[-15,-10,-5,0,5,10,15,20,25,30],"title":"Time (min)"}},"y":{"field":"v","type":"quantitative","scale":{"domain":[-0.1,0.3],"nice":false,"zero":false},"axis":{"values":[-0.1,0,0.1,0.2,0.3],"format":".1f","title":"rCBV response"}},"fill":{"field":"g","type":"nominal","scale":{"domain":["865 - Yoh","Veh - Yoh","Veh - Veh"],"range":["#a8a8a8","#1c1c1c","#ffffff"]},"legend":{"orient":"top-left","title":null,"offset":4,"symbolType":"circle","symbolSize":18,"symbolStrokeColor":"#444444","symbolStrokeWidth":0.8,"rowPadding":1,"labelFontSize":9,"padding":0}}}}
]},
{"title":"Cingulate Cortex","width":193,"height":130,"data":{"name":"cc2"},
"layer":[
{"data":{"values":[{}]},"mark":{"type":"rule","color":"#9a9a9a","strokeDash":[2,2],"strokeWidth":1},"encoding":{"y":{"datum":0,"type":"quantitative","scale":{"domain":[-0.1,0.3],"nice":false,"zero":false},"axis":{"values":[-0.1,0,0.1,0.2,0.3],"format":".1f","title":"rCBV response"}}}},
{"mark":{"type":"errorbar","color":"#8a8a8a","thickness":1},"encoding":{"x":{"field":"t","type":"quantitative","scale":{"domain":[-15,30],"nice":false},"axis":{"values":[-15,-10,-5,0,5,10,15,20,25,30],"title":"Time (min)"}},"y":{"field":"v","type":"quantitative","scale":{"domain":[-0.1,0.3],"nice":false,"zero":false},"axis":{"values":[-0.1,0,0.1,0.2,0.3],"format":".1f","title":"rCBV response"}},"yError":{"field":"e"}}},
{"mark":{"type":"point","filled":true,"size":18,"stroke":"#444444","strokeWidth":0.8,"opacity":1},"encoding":{"x":{"field":"t","type":"quantitative","scale":{"domain":[-15,30],"nice":false},"axis":{"values":[-15,-10,-5,0,5,10,15,20,25,30],"title":"Time (min)"}},"y":{"field":"v","type":"quantitative","scale":{"domain":[-0.1,0.3],"nice":false,"zero":false},"axis":{"values":[-0.1,0,0.1,0.2,0.3],"format":".1f","title":"rCBV response"}},"fill":{"field":"g","type":"nominal","scale":{"domain":["CP - Yoh","Veh - Yoh","Veh - Veh"],"range":["#a8a8a8","#1c1c1c","#ffffff"]},"legend":null}}}
]},
{"title":"VmTh","width":193,"height":130,"data":{"name":"vm2"},
"layer":[
{"data":{"values":[{}]},"mark":{"type":"rule","color":"#9a9a9a","strokeDash":[2,2],"strokeWidth":1},"encoding":{"y":{"datum":0,"type":"quantitative","scale":{"domain":[-0.1,0.3],"nice":false,"zero":false},"axis":{"values":[-0.1,0,0.1,0.2,0.3],"format":".1f","title":"rCBV response"}}}},
{"mark":{"type":"errorbar","color":"#8a8a8a","thickness":1},"encoding":{"x":{"field":"t","type":"quantitative","scale":{"domain":[-15,30],"nice":false},"axis":{"values":[-15,-10,-5,0,5,10,15,20,25,30],"title":"Time (min)"}},"y":{"field":"v","type":"quantitative","scale":{"domain":[-0.1,0.3],"nice":false,"zero":false},"axis":{"values":[-0.1,0,0.1,0.2,0.3],"format":".1f","title":"rCBV response"}},"yError":{"field":"e"}}},
{"mark":{"type":"point","filled":true,"size":18,"stroke":"#444444","strokeWidth":0.8,"opacity":1},"encoding":{"x":{"field":"t","type":"quantitative","scale":{"domain":[-15,30],"nice":false},"axis":{"values":[-15,-10,-5,0,5,10,15,20,25,30],"title":"Time (min)"}},"y":{"field":"v","type":"quantitative","scale":{"domain":[-0.1,0.3],"nice":false,"zero":false},"axis":{"values":[-0.1,0,0.1,0.2,0.3],"format":".1f","title":"rCBV response"}},"fill":{"field":"g","type":"nominal","scale":{"domain":["CP - Yoh","Veh - Yoh","Veh - Veh"],"range":["#a8a8a8","#1c1c1c","#ffffff"]},"legend":null}}}
]},
{"title":"Caudate Putamen","width":193,"height":130,"data":{"name":"cp2"},
"layer":[
{"data":{"values":[{}]},"mark":{"type":"rule","color":"#9a9a9a","strokeDash":[2,2],"strokeWidth":1},"encoding":{"y":{"datum":0,"type":"quantitative","scale":{"domain":[-0.1,0.3],"nice":false,"zero":false},"axis":{"values":[-0.1,0,0.1,0.2,0.3],"format":".1f","title":"rCBV response"}}}},
{"mark":{"type":"errorbar","color":"#8a8a8a","thickness":1},"encoding":{"x":{"field":"t","type":"quantitative","scale":{"domain":[-15,30],"nice":false},"axis":{"values":[-15,-10,-5,0,5,10,15,20,25,30],"title":"Time (min)"}},"y":{"field":"v","type":"quantitative","scale":{"domain":[-0.1,0.3],"nice":false,"zero":false},"axis":{"values":[-0.1,0,0.1,0.2,0.3],"format":".1f","title":"rCBV response"}},"yError":{"field":"e"}}},
{"mark":{"type":"point","filled":true,"size":18,"stroke":"#444444","strokeWidth":0.8,"opacity":1},"encoding":{"x":{"field":"t","type":"quantitative","scale":{"domain":[-15,30],"nice":false},"axis":{"values":[-15,-10,-5,0,5,10,15,20,25,30],"title":"Time (min)"}},"y":{"field":"v","type":"quantitative","scale":{"domain":[-0.1,0.3],"nice":false,"zero":false},"axis":{"values":[-0.1,0,0.1,0.2,0.3],"format":".1f","title":"rCBV response"}},"fill":{"field":"g","type":"nominal","scale":{"domain":["CP - Yoh","Veh - Yoh","Veh - Veh"],"range":["#a8a8a8","#1c1c1c","#ffffff"]},"legend":{"orient":"top-left","title":null,"offset":4,"symbolType":"circle","symbolSize":18,"symbolStrokeColor":"#444444","symbolStrokeWidth":0.8,"rowPadding":1,"labelFontSize":9,"padding":0}}}}
]}
]
}
